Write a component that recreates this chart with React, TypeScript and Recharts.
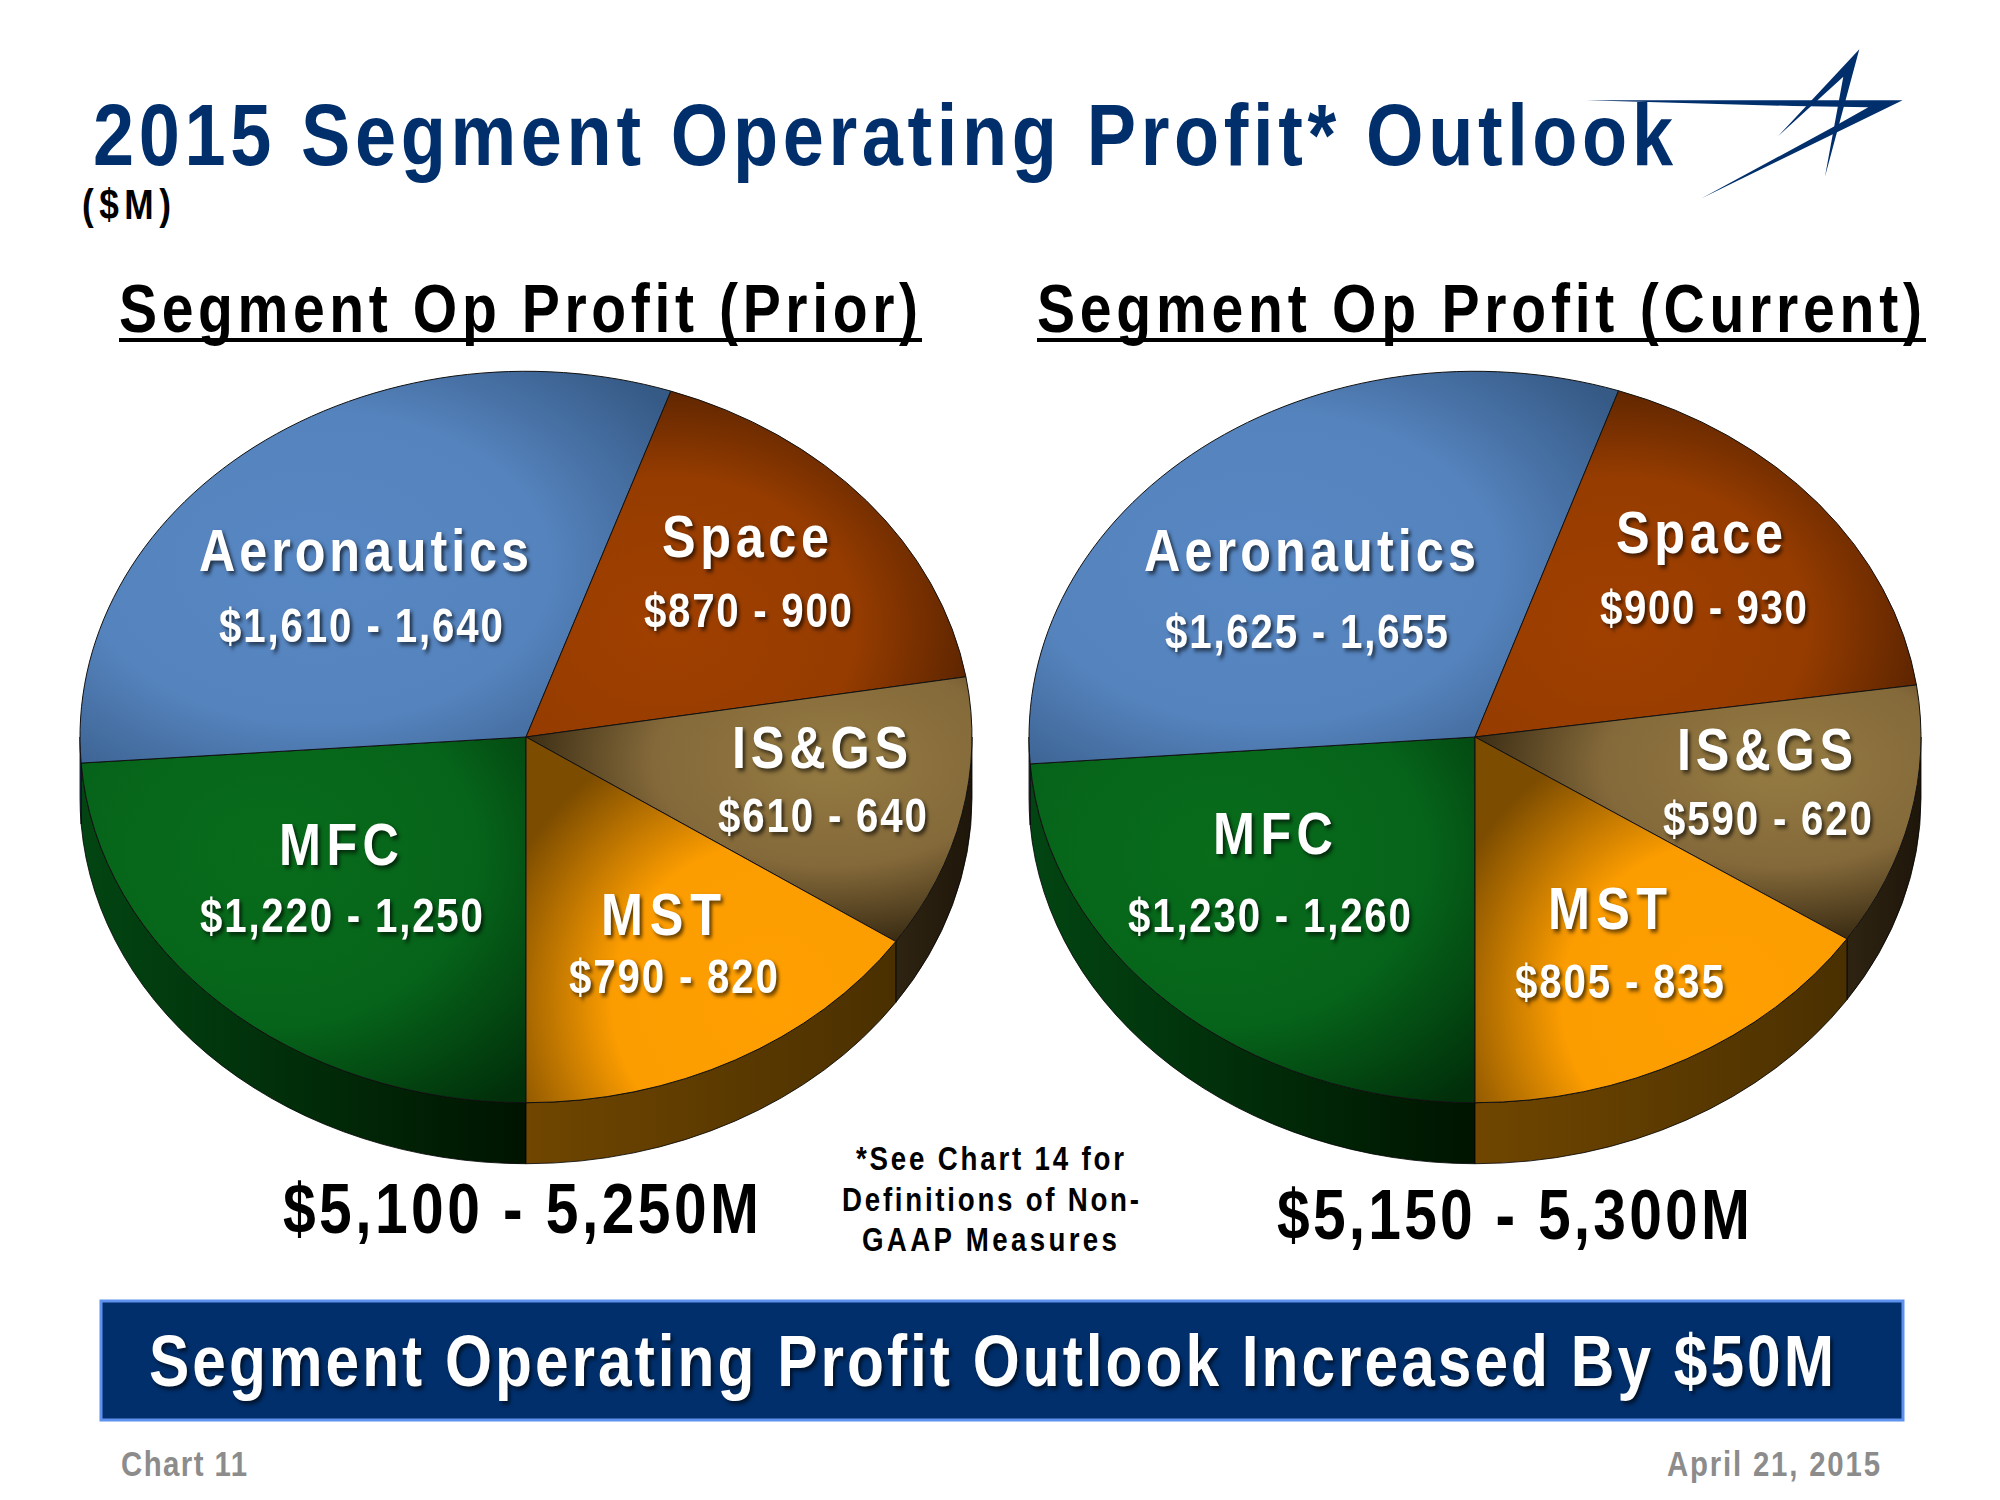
import React from 'react';
import { PieChart, Pie } from 'recharts';

const segments = ['MFC', 'Aeronautics', 'Space', 'IS&GS', 'MST'];
// midpoints of the outlook ranges, these set the slice sizes
const priorValues = [1235, 1625, 885, 625, 805];
const currentValues = [1245, 1640, 915, 605, 820];
const priorRanges = ['$1,220 - 1,250', '$1,610 - 1,640', '$870 - 900', '$610 - 640', '$790 - 820'];
const currentRanges = ['$1,230 - 1,260', '$1,625 - 1,655', '$900 - 930', '$590 - 620', '$805 - 835'];

const priorRows = segments.map((name, i) => ({ name, value: priorValues[i], range: priorRanges[i] }));
const currentRows = segments.map((name, i) => ({ name, value: currentValues[i], range: currentRanges[i] }));

const SQUASH = 0.82;
const DEPTH = 61;
const FONT = '"Liberation Sans", Arial, sans-serif';

const TOP_COLORS = [
  ['#086c1b', '#06641a', '#012f0a'],
  ['#5787c3', '#5583bd', '#365a86'],
  ['#a04000', '#963c00', '#4c1e00'],
  ['#957b42', '#84693a', '#33260f'],
  ['#ff9f00', '#fb9c00', '#7c4c00'],
];
// gradient centre and radius inside each slice's box
const GRAD_SHAPES = [
  [0.42, 0.32, 0.85],
  [0.4, 0.5, 0.72],
  [0.32, 0.68, 0.78],
  [0.68, 0.32, 0.72],
  [0.66, 0.72, 0.78],
];
const WALL_COLORS = [
  ['#024512', '#001400'],
  ['#2c4a70', '#2c4a70'],
  ['#4a1e00', '#4a1e00'],
  ['#2f2412', '#1e160a'],
  ['#704600', '#4a3000'],
];

// [name x1, name x2, name baseline, range x1, range x2, range baseline]
const priorLabelBoxes = [
  [279, 399, 865, 200, 483, 932],
  [199, 529, 571, 219, 503, 642],
  [662, 829, 557, 644, 852, 627],
  [732, 908, 768, 718, 927, 832],
  [601, 721, 935, 569, 778, 993],
];
const currentLabelBoxes = [
  [1213, 1333, 854, 1128, 1411, 932],
  [1144, 1476, 571, 1165, 1448, 648],
  [1616, 1783, 553, 1600, 1807, 624],
  [1677, 1853, 770, 1663, 1872, 835],
  [1548, 1667, 929, 1515, 1724, 998],
];

const SHADOW = 'drop-shadow(3px 3px 2px rgba(0,0,0,0.6))';

const SpacedText = ({ x1, x2, y, size, fill = '#000', shadow, squeeze = 0.84, children }: any) => (
  <text
    transform={`translate(${x1},${y}) scale(${squeeze},1)`}
    textLength={(x2 - x1) / squeeze}
    lengthAdjust="spacing"
    fontFamily={FONT}
    fontWeight="bold"
    fontSize={size}
    fill={fill}
    style={shadow ? { filter: SHADOW } : undefined}
  >
    {children}
  </text>
);

const rad = (a: number) => (a * Math.PI) / 180;

const EllipseSlice = (props: any) => {
  const { cx, cy, outerRadius, startAngle, endAngle, name, payload } = props;
  const idx = segments.indexOf(name ?? payload?.name);
  const rx = outerRadius;
  const ry = outerRadius * SQUASH;
  const px = (a: number) => cx + rx * Math.cos(rad(a));
  const py = (a: number) => cy - ry * Math.sin(rad(a));
  const large = Math.abs(startAngle - endAngle) > 180 ? 1 : 0;
  const top = `M${cx},${cy} L${px(startAngle)},${py(startAngle)} A${rx},${ry} 0 ${large} 1 ${px(endAngle)},${py(endAngle)} Z`;

  // side wall only where the rim faces the viewer
  const walls: string[] = [];
  [[180, 270], [-90, 0]].forEach(([lo, hi]) => {
    const a1 = Math.min(startAngle, hi);
    const a2 = Math.max(endAngle, lo);
    if (a1 <= a2) return;
    walls.push(
      `M${px(a1)},${py(a1)} A${rx},${ry} 0 0 1 ${px(a2)},${py(a2)} L${px(a2)},${py(a2) + DEPTH} A${rx},${ry} 0 0 0 ${px(a1)},${py(a1) + DEPTH} Z`
    );
  });

  return (
    <g>
      {walls.map((d, i) => (
        <path key={i} d={d} fill={`url(#wall-${idx})`} stroke="#000" strokeWidth={0.8} />
      ))}
      <path d={top} fill={`url(#top-${idx})`} stroke="#111" strokeWidth={1} />
    </g>
  );
};

const makeLabel = (rows: any[], boxes: number[][]) => (props: any) => {
  const b = boxes[props.index];
  const row = rows[props.index];
  return (
    <g>
      <SpacedText x1={b[0]} x2={b[1]} y={b[2]} size={60} fill="#fff" shadow>
        {row.name}
      </SpacedText>
      <SpacedText x1={b[3]} x2={b[4]} y={b[5]} size={48} fill="#fff" shadow>
        {row.range}
      </SpacedText>
    </g>
  );
};

const App = () => (
  <div style={{ position: 'absolute', left: 0, top: 0, width: 2000, height: 1500, background: '#fff', overflow: 'hidden' }}>
    <svg width={2000} height={1500} style={{ position: 'absolute', left: 0, top: 0 }}>
      <defs>
        {TOP_COLORS.map((c, i) => (
          <radialGradient key={i} id={`top-${i}`} cx={GRAD_SHAPES[i][0]} cy={GRAD_SHAPES[i][1]} r={GRAD_SHAPES[i][2]}>
            <stop offset="0%" stopColor={c[0]} />
            <stop offset="55%" stopColor={c[1]} />
            <stop offset="100%" stopColor={c[2]} />
          </radialGradient>
        ))}
        {WALL_COLORS.map((c, i) => (
          <linearGradient key={i} id={`wall-${i}`} x1="0" y1="0" x2="1" y2="0">
            <stop offset="0%" stopColor={c[0]} />
            <stop offset="100%" stopColor={c[1]} />
          </linearGradient>
        ))}
      </defs>

      <SpacedText x1={93} x2={1673} y={165} size={88} fill="#002F6C">2015 Segment Operating Profit* Outlook</SpacedText>
      <SpacedText x1={82} x2={171} y={219} size={42}>($M)</SpacedText>

      <g transform="translate(1500,20) scale(0.3333)" fill="#002F6C">
        <polygon points="258,241 1208,241 605,535 1005,318 1105,262 880,258" />
        <polygon points="1078,88 975,470 1030,170 833,350" />
      </g>

      <SpacedText x1={119} x2={918} y={332} size={68}>Segment Op Profit (Prior)</SpacedText>
      <rect x={119} y={338} width={803} height={4} fill="#000" />
      <SpacedText x1={1037} x2={1922} y={332} size={68}>Segment Op Profit (Current)</SpacedText>
      <rect x={1037} y={338} width={889} height={4} fill="#000" />

      <SpacedText x1={283} x2={759} y={1233} size={70}>$5,100 - 5,250M</SpacedText>
      <SpacedText x1={1277} x2={1750} y={1239} size={70}>$5,150 - 5,300M</SpacedText>

      <SpacedText x1={856} x2={1124} y={1170} size={33}>*See Chart 14 for</SpacedText>
      <SpacedText x1={842} x2={1139} y={1211} size={33}>Definitions of Non-</SpacedText>
      <SpacedText x1={862} x2={1117} y={1251} size={33}>GAAP Measures</SpacedText>

      <rect x={101} y={1301} width={1802} height={119} fill="#002F6C" stroke="#5F92EE" strokeWidth={3} />
      <SpacedText x1={149} x2={1834} y={1386} size={72} fill="#fff" shadow>
        Segment Operating Profit Outlook Increased By $50M
      </SpacedText>

      <SpacedText x1={121} x2={247} y={1476} size={35} fill="#8c8c8c">Chart 11</SpacedText>
      <SpacedText x1={1667} x2={1880} y={1476} size={35} fill="#8c8c8c">April 21, 2015</SpacedText>
    </svg>

    <div style={{ position: 'absolute', left: 0, top: 0 }}>
      <PieChart width={2000} height={1500} margin={{ top: 0, right: 0, bottom: 0, left: 0 }}>
        <Pie
          data={priorRows}
          dataKey="value"
          nameKey="name"
          cx={526}
          cy={737}
          outerRadius={446}
          startAngle={270}
          endAngle={-90}
          shape={EllipseSlice}
          label={makeLabel(priorRows, priorLabelBoxes)}
          labelLine={false}
          isAnimationActive={false}
        />
        <Pie
          data={currentRows}
          dataKey="value"
          nameKey="name"
          cx={1475}
          cy={737}
          outerRadius={446}
          startAngle={270}
          endAngle={-90}
          shape={EllipseSlice}
          label={makeLabel(currentRows, currentLabelBoxes)}
          labelLine={false}
          isAnimationActive={false}
        />
      </PieChart>
    </div>
  </div>
);

export default App;
